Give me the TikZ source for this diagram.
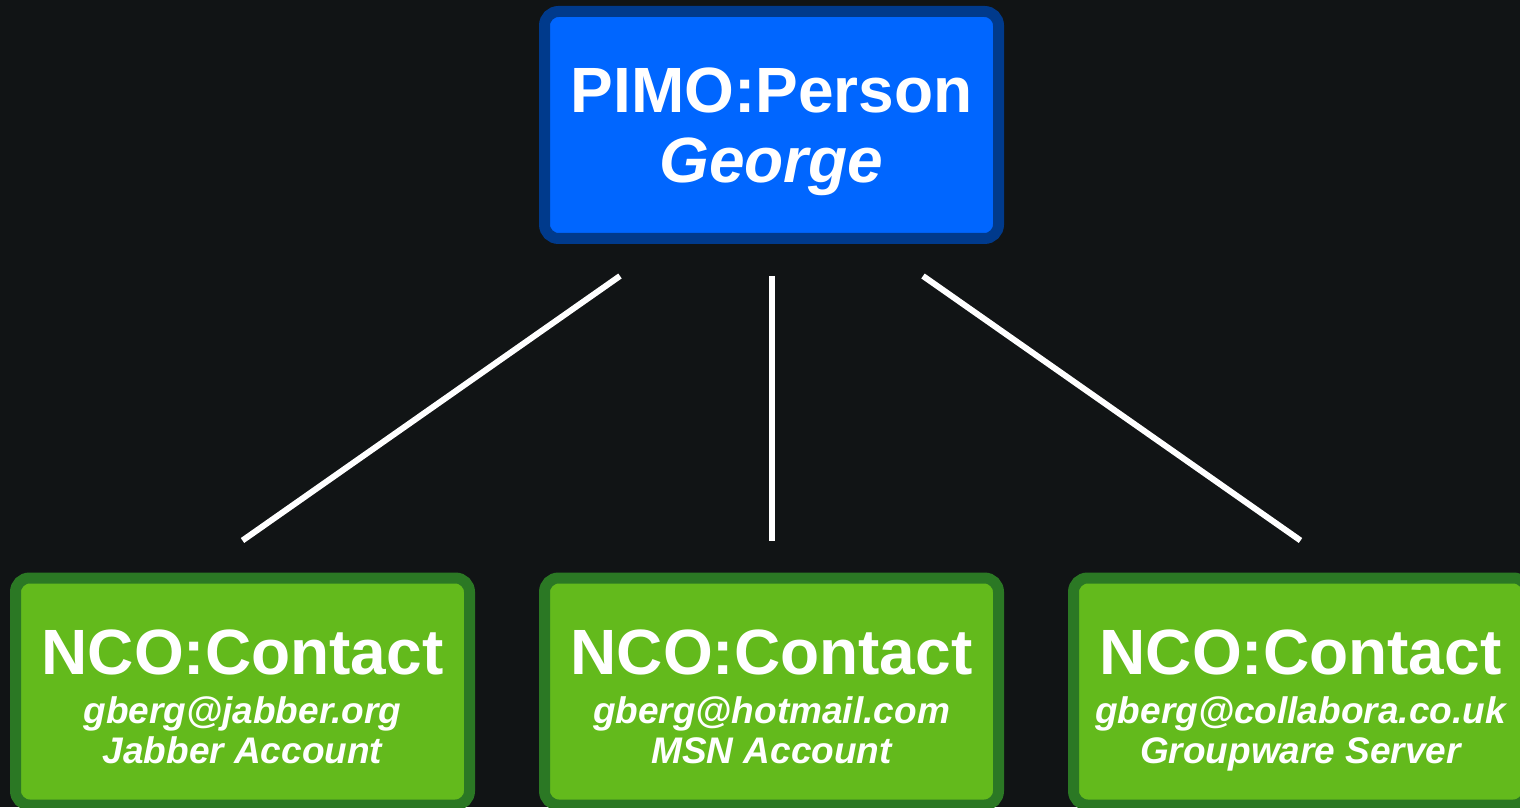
\documentclass[tikz,border=0pt]{standalone}
\usepackage{fontspec}
\setmainfont{Liberation Sans}
\usepackage{tikz}

\definecolor{bgdark}{RGB}{17,20,21}
\definecolor{personfill}{RGB}{0,102,255}
\definecolor{personedge}{RGB}{0,58,140}
\definecolor{contactfill}{RGB}{99,186,28}
\definecolor{contactedge}{RGB}{43,120,36}

\tikzset{
  box/.style={line width=11pt, rounded corners=14pt, minimum width=454pt,
    minimum height=227pt, text=white, align=center, text depth=0pt},
  personbox/.style={box, draw=personedge, fill=personfill,
    font=\fontsize{64}{70}\selectfont\bfseries},
  contactbox/.style={box, draw=contactedge, fill=contactfill,
    font=\fontsize{37}{40}\selectfont\bfseries\itshape},
  link/.style={draw=white, line width=6pt}
}
\newcommand{\conhead}{{\fontsize{64}{40}\selectfont\upshape\rule{0pt}{54pt}NCO:Contact}\\[9pt]}

\begin{document}
\begin{tikzpicture}[x=1pt,y=1pt]
    \useasboundingbox (0,0) rectangle (1520,807);
    \clip (0,0) rectangle (1520,807);
    \fill[bgdark] (0,0) rectangle (1520,807);

    \node[personbox] (person) at (771.5,682) {PIMO:Person\\\textit{George}};
    \node[contactbox] (jabber) at (242.5,115.5) {\conhead gberg@jabber.org\\Jabber Account};
    \node[contactbox] (msn) at (771.5,115.5) {\conhead gberg@hotmail.com\\MSN Account};
    \node[contactbox] (groupware) at (1300.5,115.5) {\conhead gberg@collabora.co.uk\\Groupware Server};

    \draw[link] ([xshift=-151.5pt,yshift=-32pt]person.south) -- ([yshift=32pt]jabber.north);
    \draw[link] ([yshift=-32pt]person.south) -- ([yshift=32pt]msn.north);
    \draw[link] ([xshift=151.5pt,yshift=-32pt]person.south) -- ([yshift=32pt]groupware.north);
\end{tikzpicture}
\end{document}
